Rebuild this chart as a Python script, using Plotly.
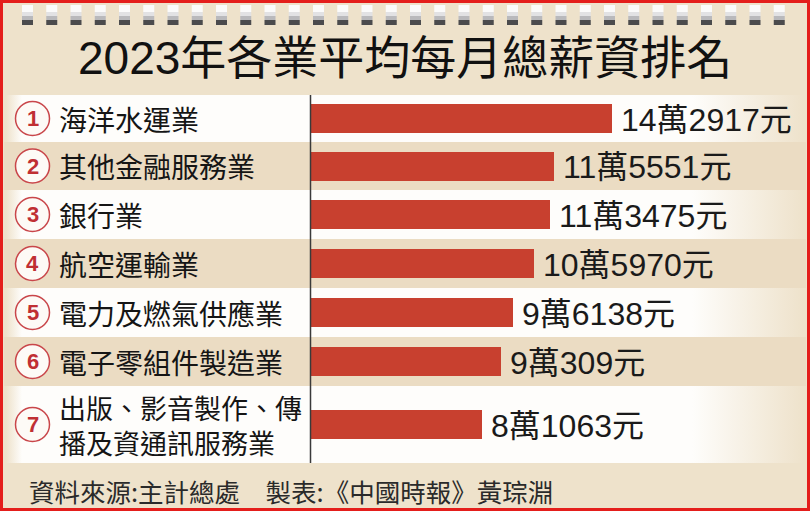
import plotly.graph_objects as go

# ---------------- data ----------------
categories = ["海洋水運業", "其他金融服務業", "銀行業", "航空運輸業",
              "電力及燃氣供應業", "電子零組件製造業", "出版、影音製作、傳<br>播及資通訊服務業"]
ranks = ["1", "2", "3", "4", "5", "6", "7"]
salaries = [142917, 115551, 113475, 105970, 96138, 90309, 81063]
title_text = "2023年各業平均每月總薪資排名"
footer_text = "資料來源:主計總處　製表:《中國時報》黃琮淵"

def fmt(v):
    return f"{v // 10000}萬{v % 10000}元"

value_labels = [fmt(v) for v in salaries]

# ---------------- layout constants ----------------
W, H = 810, 511
TAN = "#eee2cb"
RED = "#c8402f"
BORDER = "#e41e1b"
CJK = "Noto Sans CJK TC"
row_edges = [95, 142, 190, 239, 288, 337, 386, 463]
row_centers = [(a + b) / 2 for a, b in zip(row_edges[:-1], row_edges[1:])]
row_centers[-1] = 424.5
bar_y = row_centers
axis_x = 311
x2_max = 142917 * (W - axis_x) / (612 - axis_x)

fig = go.Figure()

# row bands (white rows with faded edges)
for i in range(len(categories)):
    y0, y1 = row_edges[i], row_edges[i + 1]
    if i % 2 == 0:
        fig.add_trace(go.Scatter(
            x=[6, 804, 804, 6, 6], y=[y0, y0, y1, y1, y0],
            mode="lines", line=dict(width=0), fill="toself",
            fillgradient=dict(type="horizontal",
                              colorscale=[[0, TAN], [0.02, "#fefdfb"], [0.86, "#fefdfb"], [1, TAN]]),
            hoverinfo="skip", showlegend=False, xaxis="x", yaxis="y"))
    else:
        fig.add_shape(type="rect", xref="x", yref="y", x0=4, x1=806, y0=y0, y1=y1,
                      fillcolor="#ebdcc3", line_width=0, layer="below")

# bars
fig.add_trace(go.Bar(
    x=salaries, y=bar_y, orientation="h", width=29,
    marker=dict(color=RED, line_width=0),
    hoverinfo="skip", showlegend=False, xaxis="x2", yaxis="y"))

# value labels
for v, yv, lab in zip(salaries, bar_y, value_labels):
    fig.add_annotation(x=v, y=yv, xref="x2", yref="y", text=lab, showarrow=False,
                       xanchor="left", yanchor="middle", xshift=7, yshift=-1,
                       font=dict(family=f"Liberation Sans, {CJK}", size=32, color="#1a1a1a"))

# category labels and circled ranks
for i, (c, r, yv) in enumerate(zip(categories, ranks, row_centers)):
    fig.add_annotation(x=57, y=yv, xref="x", yref="y", text=c, showarrow=False,
                       xanchor="left", yanchor="middle", align="left",
                       font=dict(family=CJK, size=27 if i == 6 else 28, color="#151515"))
    fig.add_shape(type="circle", xref="x", yref="y", x0=15.5, x1=49.5, y0=yv - 17, y1=yv + 17,
                  fillcolor="#fdfaf6", line=dict(color="#c9464a", width=1.5))
    fig.add_annotation(x=32.5, y=yv, xref="x", yref="y", text=f"<b>{r}</b>", showarrow=False,
                       xanchor="center", yanchor="middle",
                       font=dict(family="Liberation Sans", size=22, color="#c02f33"))

# vertical axis line
fig.add_shape(type="line", xref="x", yref="y", x0=310.5, x1=310.5, y0=95, y1=463,
              line=dict(color="#3a3a3a", width=1.5))

# calendar rings
n_rings = 32
for k in range(n_rings):
    x0 = 22 + k * 24.25
    fig.add_shape(type="rect", xref="x", yref="y", x0=x0, x1=x0 + 11, y0=5, y1=12,
                  fillcolor="#fbfbfb", line_width=0)
    fig.add_shape(type="rect", xref="x", yref="y", x0=x0, x1=x0 + 11, y0=12, y1=16,
                  fillcolor="#e2e2e4", line_width=0)
    fig.add_shape(type="rect", xref="x", yref="y", x0=x0, x1=x0 + 11, y0=16, y1=20,
                  fillcolor="#b9b9bc", line_width=0)
    fig.add_shape(type="rect", xref="x", yref="y", x0=x0, x1=x0 + 11, y0=20, y1=25,
                  fillcolor="#4b4b4d", line_width=0)

# title
fig.add_annotation(x=405, y=58, xref="x", yref="y", text=title_text, showarrow=False,
                   xanchor="center", yanchor="middle",
                   font=dict(family=f"Liberation Sans, {CJK}", size=46, color="#111111"))

# footer
fig.add_annotation(x=27, y=490, xref="x", yref="y", text=footer_text, showarrow=False,
                   xanchor="left", yanchor="middle",
                   font=dict(family=CJK, size=25.5, color="#2a2a2a"))

# red frame
fig.add_shape(type="rect", xref="x", yref="y", x0=1.5, x1=W - 1.5, y0=1.5, y1=H - 1.5,
              line=dict(color=BORDER, width=3), fillcolor="rgba(0,0,0,0)")

fig.update_layout(
    width=W, height=H, margin=dict(l=0, r=0, t=0, b=0),
    paper_bgcolor=TAN, plot_bgcolor="rgba(0,0,0,0)",
    xaxis=dict(domain=[0, 1], range=[0, W], visible=False, fixedrange=True),
    xaxis2=dict(domain=[axis_x / W, 1], range=[0, x2_max], anchor="y", visible=False, fixedrange=True),
    yaxis=dict(domain=[0, 1], range=[H, 0], visible=False, fixedrange=True),
    bargap=0,
)

fig.write_html("out.html")
